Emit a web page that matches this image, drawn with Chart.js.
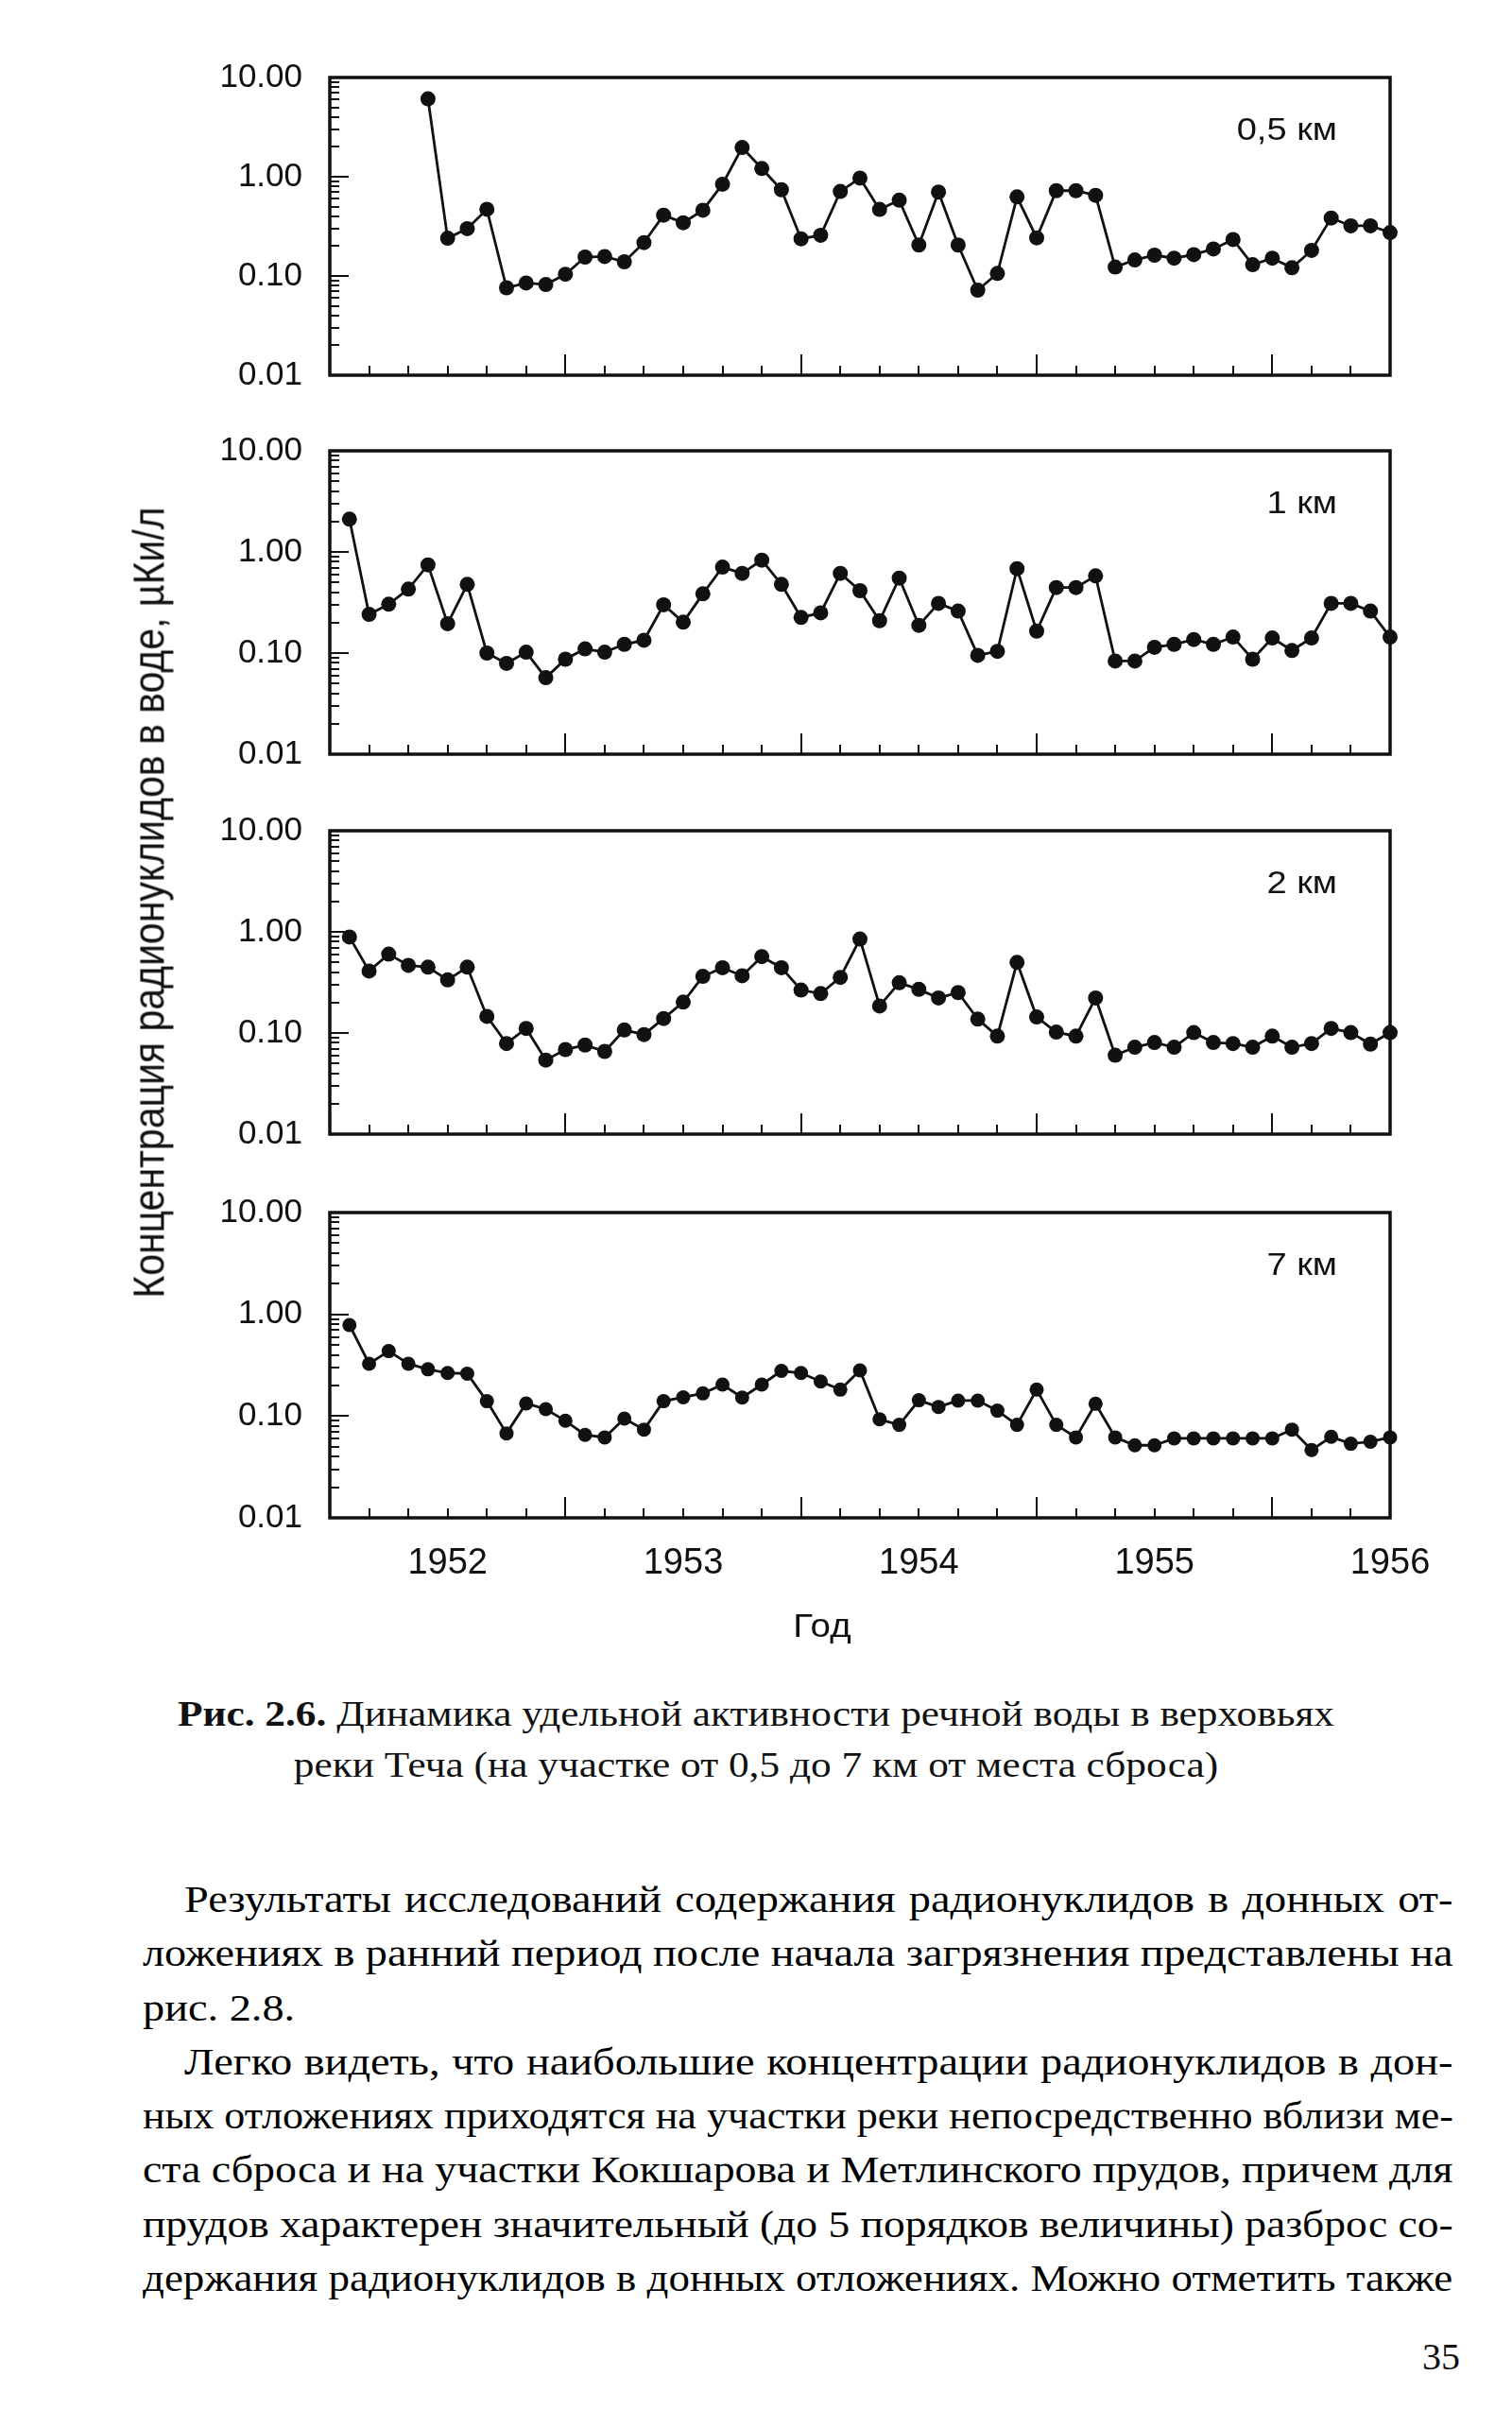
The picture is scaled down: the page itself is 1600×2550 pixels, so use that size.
<!DOCTYPE html>
<html>
<head>
<meta charset="utf-8">
<script src="https://cdn.jsdelivr.net/npm/chart.js@4.4.1/dist/chart.umd.min.js"></script>
<style>
  body { margin: 0; background: #fff; width: 1600px; height: 2550px; position: relative; overflow: hidden; color: #111; }
  canvas { position: absolute; left: 0; }
  #ytitle { position: absolute; left: 158px; top: 955px; transform: translate(-50%, -50%) rotate(-90deg) scaleY(1.13);
            white-space: nowrap; font: 41px "Liberation Sans", Arial, sans-serif; }
  #xtitle { position: absolute; left: 870px; top: 1720px; transform: translate(-50%, -50%) scaleX(1.1);
            font: 35px "Liberation Sans", Arial, sans-serif; }
  #caption { position: absolute; left: 0; top: 1786px; width: 1600px; text-align: center; transform: scaleX(1.14);
             font: 38px "Liberation Serif", "Times New Roman", serif; line-height: 54px; }
  #body { position: absolute; left: 151px; top: 1981px; width: 1227px; transform-origin: 0 0; transform: scaleX(1.13);
          font: 41px "Liberation Serif", "Times New Roman", serif; color: #000; }
  #body div { height: 57.3px; line-height: 57.3px; white-space: nowrap; text-align: justify; text-align-last: left; }
  #body div.ind { padding-left: 39px; }
  #body span { transform-origin: 0 50%; }
  #page { position: absolute; right: 55px; top: 2470px; font: 40px "Liberation Serif", serif; }
</style>
</head>
<body>
<canvas id="c1" width="1600" height="420"></canvas>
<canvas id="c2" width="1600" height="420"></canvas>
<canvas id="c3" width="1600" height="420"></canvas>
<canvas id="c4" width="1600" height="480"></canvas>

<div id="ytitle">Концентрация радионуклидов в воде, µКи/л</div>
<div id="xtitle">Год</div>

<div id="caption"><b>Рис. 2.6.</b> Динамика удельной активности речной воды в верховьях<br>реки Теча (на участке от 0,5 до 7 км от места сброса)</div>

<div id="body">
  <div class="ind"><span>Результаты исследований содержания радионуклидов в донных от-</span></div>
  <div><span>ложениях в ранний период после начала загрязнения представлены на</span></div>
  <div class="last"><span>рис. 2.8.</span></div>
  <div class="ind"><span>Легко видеть, что наибольшие концентрации радионуклидов в дон-</span></div>
  <div><span>ных отложениях приходятся на участки реки непосредственно вблизи ме-</span></div>
  <div><span>ста сброса и на участки Кокшарова и Метлинского прудов, причем для</span></div>
  <div><span>прудов характерен значительный (до 5 порядков величины) разброс со-</span></div>
  <div><span>держания радионуклидов в донных отложениях. Можно отметить также</span></div>
</div>
<div id="page">35</div>

<script>
// месяцы наблюдений (август 1951 - январь 1956)
const months = [
  "1951-08", "1951-09", "1951-10", "1951-11", "1951-12",
  "1952-01", "1952-02", "1952-03", "1952-04", "1952-05", "1952-06", "1952-07", "1952-08", "1952-09", "1952-10", "1952-11", "1952-12",
  "1953-01", "1953-02", "1953-03", "1953-04", "1953-05", "1953-06", "1953-07", "1953-08", "1953-09", "1953-10", "1953-11", "1953-12",
  "1954-01", "1954-02", "1954-03", "1954-04", "1954-05", "1954-06", "1954-07", "1954-08", "1954-09", "1954-10", "1954-11", "1954-12",
  "1955-01", "1955-02", "1955-03", "1955-04", "1955-05", "1955-06", "1955-07", "1955-08", "1955-09", "1955-10", "1955-11", "1955-12",
  "1956-01"
];

// концентрация, мкКи/л
const km05 = [null, null, null, null, 6.1, 0.24, 0.30, 0.47, 0.076, 0.085, 0.082, 0.104, 0.155, 0.157, 0.139, 0.217, 0.41, 0.344,
  0.46, 0.84, 1.97, 1.21, 0.74, 0.237, 0.257, 0.71, 0.97, 0.468, 0.58, 0.205, 0.70, 0.205, 0.072, 0.106, 0.627, 0.242,
  0.724, 0.724, 0.65, 0.123, 0.145, 0.162, 0.151, 0.164, 0.187, 0.233, 0.13, 0.151, 0.121, 0.181, 0.384, 0.32, 0.32, 0.274];
const km1 = [2.11, 0.241, 0.304, 0.429, 0.745, 0.195, 0.478, 0.10, 0.079, 0.102, 0.057, 0.087, 0.11, 0.102, 0.122, 0.134, 0.30, 0.202,
  0.385, 0.708, 0.614, 0.83, 0.478, 0.225, 0.25, 0.614, 0.414, 0.209, 0.551, 0.188, 0.31, 0.26, 0.095, 0.104, 0.684, 0.165,
  0.445, 0.445, 0.58, 0.0835, 0.0835, 0.114, 0.122, 0.136, 0.122, 0.144, 0.087, 0.141, 0.106, 0.141, 0.31, 0.31, 0.26, 0.144];
const km2 = [0.89, 0.41, 0.602, 0.467, 0.448, 0.335, 0.448, 0.146, 0.0787, 0.111, 0.054, 0.0686, 0.076, 0.0657, 0.107, 0.0964, 0.139, 0.202,
  0.363, 0.442, 0.368, 0.569, 0.442, 0.266, 0.245, 0.355, 0.85, 0.185, 0.314, 0.27, 0.222, 0.251, 0.137, 0.093, 0.499, 0.144,
  0.102, 0.093, 0.222, 0.0602, 0.0723, 0.0805, 0.0723, 0.101, 0.0805, 0.0787, 0.0723, 0.093, 0.0723, 0.0787, 0.111, 0.101, 0.0776, 0.101];
const km7 = [0.785, 0.327, 0.435, 0.327, 0.288, 0.265, 0.261, 0.14, 0.0676, 0.133, 0.117, 0.0899, 0.0653, 0.0617, 0.0944, 0.0736, 0.14, 0.153,
  0.167, 0.204, 0.152, 0.204, 0.278, 0.265, 0.219, 0.182, 0.281, 0.093, 0.082, 0.143, 0.123, 0.142, 0.142, 0.113, 0.082, 0.182,
  0.082, 0.0617, 0.132, 0.0617, 0.0516, 0.0516, 0.0604, 0.0604, 0.0604, 0.0604, 0.0604, 0.0604, 0.0736, 0.0464, 0.0625, 0.0535, 0.056, 0.0617];

// подписи осей
const yearLabels = ["1952", "1953", "1954", "1955", "1956"];
const halfYearMarks = ["1952-07", "1953-07", "1954-07", "1955-07"];
const yDecades = [0.01, 0.1, 1, 10];
const yDecadeLabels = ["0.01", "0.10", "1.00", "10.00"];

const INK = "#111";
Chart.defaults.font.family = "'Liberation Sans', Arial, sans-serif";
Chart.defaults.color = INK;

const posOf = m => months.indexOf(m) + 1;
const yearPos = yearLabels.map(y => posOf(y + "-01"));
const majorPos = halfYearMarks.map(posOf);
const xTickPos = [];
for (let j = 2; j <= months.length; j += 2) xTickPos.push(j);
const yTickVals = [];
for (let d = 0; d < yDecades.length; d++) {
  yTickVals.push(yDecades[d]);
  if (d < yDecades.length - 1) {
    for (let k = 2; k <= 9; k++) yTickVals.push(+(yDecades[d] * k).toPrecision(3));
  }
}
const decadeIndex = v => yDecades.findIndex(d => Math.abs(v - d) / d < 1e-6);

// рамка, внутренние засечки и подпись расстояния
const frameTicks = {
  id: "frameTicks",
  beforeDatasetsDraw(chart, args, opts) {
    const { ctx, chartArea: a } = chart;
    const xs = chart.scales.x, ys = chart.scales.y;
    ctx.save();
    ctx.strokeStyle = INK;
    ctx.lineWidth = 2;
    ctx.beginPath();
    for (const t of ys.ticks) {
      const py = Math.round(ys.getPixelForValue(t.value));
      const len = decadeIndex(t.value) >= 0 ? 20 : 10;
      ctx.moveTo(a.left, py);
      ctx.lineTo(a.left + len, py);
    }
    for (const t of xs.ticks) {
      if (t.value >= months.length) continue;
      const px = Math.round(xs.getPixelForValue(t.value));
      const len = majorPos.includes(t.value) ? 22 : 10;
      ctx.moveTo(px, a.bottom);
      ctx.lineTo(px, a.bottom - len);
    }
    ctx.stroke();
    ctx.lineWidth = 3.5;
    ctx.strokeRect(a.left, a.top, a.right - a.left, a.bottom - a.top);
    ctx.restore();
  },
  afterDraw(chart, args, opts) {
    const { ctx, chartArea: a } = chart;
    ctx.save();
    ctx.fillStyle = INK;
    ctx.font = "34px 'Liberation Sans', Arial, sans-serif";
    ctx.textAlign = "right";
    ctx.textBaseline = "middle";
    ctx.translate(a.right - 56, a.top + 57);
    ctx.scale(1.12, 1);
    ctx.fillText(opts.label, 0, 0);
    ctx.restore();
  }
};

// top и h - положение рамки графика на странице
const panels = [
  { id: "c1", label: "0,5 км", values: km05, top: 82, h: 315, radius: 8, years: false },
  { id: "c2", label: "1 км", values: km1, top: 477, h: 321, radius: 8, years: false },
  { id: "c3", label: "2 км", values: km2, top: 879, h: 321, radius: 8, years: false },
  { id: "c4", label: "7 км", values: km7, top: 1283, h: 323, radius: 7.5, years: true }
];

const makeChart = (canvas, p) => new Chart(canvas, {
  type: "line",
  data: {
    datasets: [{
      data: p.values.map((v, i) => ({ x: i + 1, y: v })),
      borderColor: INK,
      borderWidth: 2.8,
      pointRadius: p.radius,
      pointBackgroundColor: INK,
      pointBorderWidth: 0,
      tension: 0,
      clip: false
    }]
  },
  options: {
    responsive: false,
    animation: false,
    layout: { padding: { top: 30, right: 129, left: 0, bottom: 0 } },
    plugins: {
      legend: { display: false },
      tooltip: { enabled: false },
      frameTicks: { label: p.label }
    },
    scales: {
      x: {
        type: "linear",
        min: 0,
        max: months.length,
        grid: { display: false, drawTicks: false },
        border: { display: false },
        afterBuildTicks: s => { s.ticks = xTickPos.map(v => ({ value: v })); },
        afterFit: s => { s.height = p.years ? 100 : 40; },
        ticks: {
          display: p.years,
          autoSkip: false,
          maxRotation: 0,
          padding: 26,
          font: { size: 38 },
          callback: v => {
            const k = yearPos.indexOf(v);
            return k >= 0 ? yearLabels[k] : "";
          }
        }
      },
      y: {
        type: "logarithmic",
        min: 0.01,
        max: 10,
        grid: { display: false, drawTicks: false },
        border: { display: false },
        afterBuildTicks: s => { s.ticks = yTickVals.map(v => ({ value: v })); },
        afterFit: s => { s.width = 349; },
        ticks: {
          autoSkip: false,
          padding: 29,
          font: { size: 35 },
          callback: v => {
            const k = decadeIndex(v);
            return k >= 0 ? yDecadeLabels[k] : "";
          }
        }
      }
    }
  },
  plugins: [frameTicks]
});

for (const p of panels) {
  const canvas = document.getElementById(p.id);
  // первый проход: узнаём, сколько места занимают подписи, и подгоняем высоту холста
  let chart = makeChart(canvas, p);
  const area = chart.chartArea;
  const need = canvas.height + (p.h - (area.bottom - area.top));
  chart.destroy();
  canvas.width = 1600;
  canvas.height = Math.round(need);
  chart = makeChart(canvas, p);
  canvas.style.top = Math.round(p.top - chart.chartArea.top) + "px";
}

// строки текста: выключка по ширине, слишком длинные слегка сжимаем
document.querySelectorAll("#body div").forEach(line => {
  const span = line.querySelector("span");
  const avail = line.clientWidth - parseFloat(getComputedStyle(line).paddingLeft);
  const w = span.offsetWidth;
  if (w > avail) {
    span.style.display = "inline-block";
    span.style.transform = "scaleX(" + (avail / w) + ")";
  } else if (!line.classList.contains("last")) {
    line.style.textAlignLast = "justify";
  }
});
</script>
</body>
</html>
